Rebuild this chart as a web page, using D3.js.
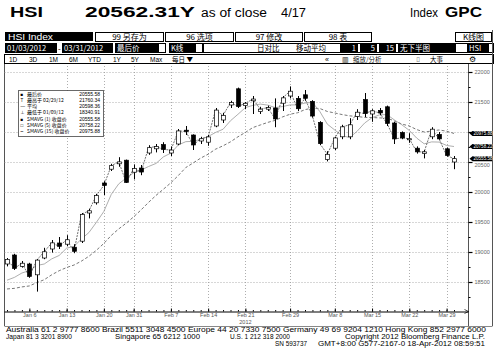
<!DOCTYPE html>
<html><head><meta charset="utf-8">
<script src="https://d3js.org/d3.v7.min.js"></script>
<style>html,body{margin:0;padding:0;background:#fff}svg{display:block}</style>
</head><body>
<svg id="c" width="500" height="358"></svg>
<script>
// ---- data (HSI daily, 2012 Q1) ----
const dates = ["01/03","01/04","01/05","01/06","01/09","01/10","01/11","01/12","01/13","01/16","01/17","01/18","01/19","01/20","01/26","01/27","01/30","01/31",
"02/01","02/02","02/03","02/06","02/07","02/08","02/09","02/10","02/13","02/14","02/15","02/16","02/17","02/20","02/21","02/22","02/23","02/24","02/27","02/28","02/29",
"03/01","03/02","03/05","03/06","03/07","03/08","03/09","03/12","03/13","03/14","03/15","03/16","03/19","03/20","03/21","03/22","03/23","03/26","03/27","03/28","03/29","03/30"];
const openVals = [18800,18950,18760,18800,18620,18900,19050,19150,19130,19080,
19180,19650,19820,20150,20380,20470,20530,20330,20400,20650,
20720,20790,20650,20800,21030,20950,20850,20830,21100,21200,
21450,21720,21440,21520,21340,21380,21400,21480,21600,21560,
21620,21510,21160,20540,20730,20920,20920,21260,21540,21300,
21360,21420,21150,20990,20870,20730,20640,20920,20960,20720,
20500];
const highVals = [18900,18970,18850,18820,18880,19070,19200,19250,19280,19130,
19650,19720,19970,20180,20470,20580,20540,20460,20450,20780,
20800,20830,20760,21050,21100,20960,20920,20950,21400,21320,
21520,21740,21500,21600,21420,21440,21560,21600,21760,21600,
21700,21530,21180,20680,20920,21120,21230,21380,21650,21380,
21400,21440,21170,21010,20980,20760,20700,21080,21000,20740,
20600];
const lowVals = [18760,18700,18740,18570,18340,18880,18990,19050,19100,18980,
19150,19560,19790,19950,20350,20420,20150,20210,20280,20620,
20660,20650,20600,20780,20950,20700,20800,20770,21080,21150,
21400,21400,21380,21300,21300,21350,21080,21350,21560,21350,
21520,21240,20780,20510,20700,20880,20880,21200,21250,21170,
21280,21100,20800,20880,20820,20640,20560,20880,20870,20590,
20380];
const closeVals = [18877,18727,18813,18593,18865,19004,19152,19095,19204,19012,
19628,19687,19943,20110,20439,20502,20160,20390,20333,20739,
20757,20710,20699,21018,21010,20784,20888,20918,21365,21277,
21491,21425,21479,21549,21381,21407,21217,21569,21680,21388,
21562,21266,20806,20628,20901,21086,21120,21330,21307,21353,
21318,21144,20885,20902,20888,20669,20669,21047,20885,20609,
20555.58];
const sma5Vals = [18530,18577,18650,18689,18775,18800,18885,18942,19064,19093,
19218,19325,19495,19676,19961,20136,20231,20320,20365,20425,
20476,20586,20648,20785,20839,20844,20880,20924,20993,21046,
21188,21295,21407,21444,21465,21448,21407,21425,21451,21452,
21483,21493,21340,21130,21033,20937,20908,21013,21149,21239,
21286,21290,21201,21120,21027,20898,20803,20835,20832,20776,
20758.22];
const sma15Vals = [18384,18394,18418,18434,18490,18538,18620,18688,18741,18783,
18849,18929,19029,19143,19277,19385,19480,19586,19702,19827,
19943,20047,20154,20275,20408,20485,20565,20630,20714,20770,
20836,20920,20993,21074,21117,21160,21194,21252,21296,21321,
21373,21398,21391,21342,21317,21290,21269,21259,21243,21241,
21235,21231,21185,21133,21100,21040,21000,21016,21034,21014,
20975.88];
const yTicks = [18500,19000,19500,20000,20500,21000,21500,22000];
const yTickLabels = ["18500","19000","19500","20000","20500","","21500","22000"]; // 21000 hidden behind tag
const yMinor = [18250,18750,19250,19750,20250,20750,21250,21750];
const xTickDates = ["01/06","01/13","01/20","01/31","02/07","02/14","02/21","02/29","03/08","03/15","03/22","03/29"];
const xTickLabels = ["Jan 6","Jan 13","Jan 20","Jan 31","Feb 7","Feb 14","Feb 21","Feb 29","Mar 8","Mar 15","Mar 22","Mar 29"];
const legendLabels = ["最后价","最高于 02/29/12","平均","最低于 01/09/12","SMAVG (1) 收盘价","SMAVG (5) 收盘价","SMAVG (15) 收盘价"];
const legendValues = ["20555.58","21760.34","20598.36","18340.91","20555.58","20758.22","20975.88"];
const footer1 = "Australia 61 2 9777 8600 Brazil 5511 3048 4500 Europe 44 20 7330 7500 Germany 49 69 9204 1210 Hong Kong 852 2977 6000";

// ---- drawing ----
const svg = d3.select('#c');
const CJK = '"Noto Sans CJK SC","Liberation Sans",sans-serif';
const SANS = '"Liberation Sans","DejaVu Sans",sans-serif';
function txt(x, y, s, o = {}) {
  const t = svg.append('text').attr('x', x).attr('y', y).text(s)
    .attr('font-family', o.font || SANS).attr('font-size', o.size || 7)
    .attr('font-weight', o.weight || 'normal').attr('fill', o.fill || '#000')
    .attr('text-anchor', o.anchor || 'start');
  if (o.len) t.attr('textLength', o.len).attr('lengthAdjust', 'spacingAndGlyphs');
  return t;
}
function box(x, y, w, h, fill, stroke) {
  return svg.append('rect').attr('x', x).attr('y', y).attr('width', w).attr('height', h)
    .attr('fill', fill).attr('stroke', stroke || 'none').attr('stroke-width', stroke ? 1 : 0)
    .attr('shape-rendering', 'crispEdges');
}

// header
txt(10, 17, "HSI", {size: 14, weight: 'bold', len: 33});
txt(85, 17, "20562.31Y", {size: 14, weight: 'bold', len: 110});
txt(201, 17, "as of close", {size: 12, len: 66});
txt(281, 17, "4/17", {size: 12, len: 25});
txt(410, 17, "Index", {size: 12, len: 28});
txt(445, 17, "GPC", {size: 14, weight: 'bold', len: 37});

// toolbar row 1
box(5, 32, 88, 9, '#000');
txt(8, 40, "HSI Index", {size: 8.5, fill: '#fff', len: 45});
const row1 = [[95.5, 68, "99 另存为"], [165.5, 68, "96 选项"], [235.5, 67, "97 修改"], [304.5, 67, "98 表"], [455.5, 36, "K线图"]];
row1.forEach(r => {
  box(r[0], 32.5, r[1], 8.5, '#fff', '#000');
  txt(r[0] + r[1] / 2, 40, r[2], {size: 8, font: CJK, anchor: 'middle'});
});
// toolbar row 2
box(203.5, 43.5, 289.5, 9, '#fff', '#000');
const row2Black = [[5, 52, "01/03/2012"], [62, 51, "03/31/2012"], [115, 43, "最后价"], [169, 26, "K线"], [340, 18, "1"], [360, 17, "5"], [379, 17, "15"], [398, 58, "无下半图"], [467, 22, "HSI"]];
row2Black.forEach(r => {
  box(r[0], 43, r[1], 9.5, '#000');
  const right = /^\d+$/.test(r[2]);
  txt(right ? r[0] + r[1] - 2 : r[0] + 2, 51, r[2], {size: 7.5, fill: '#fff', font: CJK, anchor: right ? 'end' : 'start'});
});
txt(58, 50.5, "-", {size: 8});
box(158.5, 43.5, 6.5, 8.5, '#fff', '#000');
box(195.5, 43.5, 6.5, 8.5, '#fff', '#000');
txt(257, 51, "日对比", {size: 7.5, font: CJK});
txt(296, 51, "移动平均", {size: 7.5, font: CJK});
// toolbar row 3
box(4.5, 54.5, 488.5, 9, '#fff', '#000');
[["1D", 9], ["3D", 29], ["1M", 49], ["6M", 69], ["YTD", 88], ["1Y", 113], ["5Y", 131], ["Max", 150]].forEach(r => txt(r[1], 61.5, r[0], {size: 6.5}));
txt(172, 61.5, "每日 ▼", {size: 6.5, font: CJK});
txt(325, 61.5, "«", {size: 7});
txt(342, 62, "▥", {size: 7});
txt(353, 61.5, "缩放/分析", {size: 6.5, font: CJK, fill: '#222'});
txt(416, 61.5, "⌷", {size: 7});
txt(430, 61.5, "大事", {size: 6.5, font: CJK});
txt(469, 62, "⚙", {size: 8});

// chart frame
const plotL = 4.5, plotR = 468.5, plotT = 64, plotB = 311.5;
svg.append('line').attr('x1', plotL).attr('x2', plotL).attr('y1', 64).attr('y2', 326).attr('stroke', '#555');
svg.append('line').attr('x1', 492.5).attr('x2', 492.5).attr('y1', 30).attr('y2', 326).attr('stroke', '#555');
svg.append('line').attr('x1', plotL).attr('x2', 492.5).attr('y1', 326.5).attr('y2', 326.5).attr('stroke', '#888');

const x = d3.scalePoint().domain(dates).range([7, 454]);
const y = d3.scaleLinear().domain([18000, 22000]).range([312, 72]);

// grid
const g = svg.append('g');
g.selectAll('.hg').data(yTicks).join('line')
  .attr('x1', plotL).attr('x2', plotR).attr('y1', d => Math.round(y(d)) + 0.5).attr('y2', d => Math.round(y(d)) + 0.5)
  .attr('stroke', '#999').attr('stroke-dasharray', '1,2').attr('stroke-width', 0.8);
g.selectAll('.vg').data(xTickDates.slice(1)).join('line')
  .attr('x1', d => Math.round(x(d)) + 0.5).attr('x2', d => Math.round(x(d)) + 0.5).attr('y1', plotT + 2).attr('y2', plotB)
  .attr('stroke', '#999').attr('stroke-dasharray', '1,2').attr('stroke-width', 0.8);

// lines
const idx = d3.range(dates.length);
const lineOf = arr => d3.line().x(i => x(dates[i])).y(i => y(arr[i]));
svg.append('path').attr('d', lineOf(sma15Vals)(idx)).attr('fill', 'none').attr('stroke', '#555').attr('stroke-width', 0.8).attr('stroke-dasharray', '3,2');
svg.append('path').attr('d', lineOf(sma5Vals)(idx)).attr('fill', 'none').attr('stroke', '#999').attr('stroke-width', 0.8);
svg.append('path').attr('d', lineOf(closeVals)(idx)).attr('fill', 'none').attr('stroke', '#333').attr('stroke-width', 0.7).attr('stroke-dasharray', '2,1');

// candles
const cg = svg.append('g');
idx.forEach(i => {
  const cx = Math.round(x(dates[i])) + 0.5;
  const up = closeVals[i] >= openVals[i];
  cg.append('line').attr('x1', cx).attr('x2', cx).attr('y1', y(highVals[i])).attr('y2', y(lowVals[i])).attr('stroke', '#000').attr('stroke-width', 1);
  const top = y(Math.max(openVals[i], closeVals[i])), bot = y(Math.min(openVals[i], closeVals[i]));
  cg.append('rect').attr('x', cx - 2).attr('y', top).attr('width', 4).attr('height', Math.max(1, bot - top))
    .attr('fill', up ? '#fff' : '#000').attr('stroke', '#000').attr('stroke-width', 0.7);
});

// y axis (right)
svg.append('line').attr('x1', plotR).attr('x2', plotR).attr('y1', plotT).attr('y2', 326).attr('stroke', '#555');
const yAxis = svg.append('g').attr('transform', `translate(${plotR},0)`)
  .call(d3.axisRight(y).tickValues(yTicks).tickSize(4).tickPadding(2).tickFormat((d, i) => yTickLabels[i]));
yAxis.select('.domain').remove();
yAxis.selectAll('line').attr('stroke', '#000').attr('stroke-width', 1.2);
yAxis.selectAll('text').attr('font-size', 5.5).attr('font-family', SANS).attr('fill', '#666');
yAxis.selectAll('.tick').filter(d => d === 20500).select('text').attr('dy', '0.9em');
const yMin = svg.append('g').attr('transform', `translate(${plotR},0)`)
  .call(d3.axisRight(y).tickValues(yMinor).tickSize(2).tickFormat(''));
yMin.select('.domain').remove();
yMin.selectAll('line').attr('stroke', '#000');

// x axis
const xAxis = svg.append('g').attr('transform', `translate(0,${plotB})`)
  .call(d3.axisBottom(x).tickValues(xTickDates).tickSizeInner(-3).tickSizeOuter(0).tickPadding(2).tickFormat((d, i) => xTickLabels[i]));
xAxis.select('.domain').attr('d', `M${plotL},0.5H${plotR}`).attr('stroke', '#000');
xAxis.selectAll('line').attr('stroke', '#000');
xAxis.selectAll('text').attr('font-size', 5.5).attr('font-family', SANS).attr('fill', '#555');
const xMin = svg.append('g').attr('transform', `translate(0,${plotB})`)
  .call(d3.axisBottom(x).tickValues(dates).tickSizeInner(-1.5).tickSizeOuter(0).tickFormat(''));
xMin.select('.domain').remove();
xMin.selectAll('line').attr('stroke', '#000');
txt(x("02/21"), 324, "2012", {size: 5.5, anchor: 'middle', fill: '#555'});
svg.append('path').attr('d', `M${plotR - 4},${plotB - 2}L${plotR},${plotB}L${plotR - 4},${plotB + 2}`).attr('fill', 'none').attr('stroke', '#000').attr('stroke-width', 0.7);

// right value tags
[sma15Vals, sma5Vals, closeVals].forEach(arr => {
  const v = arr[arr.length - 1], yy = y(v);
  svg.append('path').attr('d', `M${plotR + 1},${yy}L${plotR + 4},${yy - 2.5}H${492}V${yy + 2.5}H${plotR + 4}Z`).attr('fill', '#000');
  txt(plotR + 5, yy + 1.8, v.toFixed(2), {size: 5, fill: '#fff', len: 19});
});

// legend
box(18.5, 90.5, 84.5, 46, '#fff', '#444').attr('stroke-width', 0.8);
const icons = ["■", "T", "—", "⊥", "■", "□", "┅"];
legendLabels.forEach((l, i) => {
  const yy = 95.5 + i * 6.3;
  txt(20.5, yy, icons[i], {size: 4.5, font: SANS});
  txt(27, yy, l, {size: 5, font: CJK});
  txt(100, yy, legendValues[i], {size: 5, anchor: 'end'});
});

// footer
txt(6, 332, footer1, {size: 6.5, len: 480});
txt(6, 339, "Japan 81 3 3201 8900", {size: 6.5, len: 66});
txt(115, 339, "Singapore 65 6212 1000", {size: 6.5, len: 85});
txt(230, 339, "U.S. 1 212 318 2000", {size: 6.5, len: 60});
txt(345, 339, "Copyright 2012 Bloomberg Finance L.P.", {size: 6.5, len: 140});
txt(275, 346, "SN 593737", {size: 6.5, len: 32});
txt(318, 346, "GMT+8:00 G577-2167-0 18-Apr-2012 08:59:51", {size: 6.5, len: 167});
</script>
</body></html>
